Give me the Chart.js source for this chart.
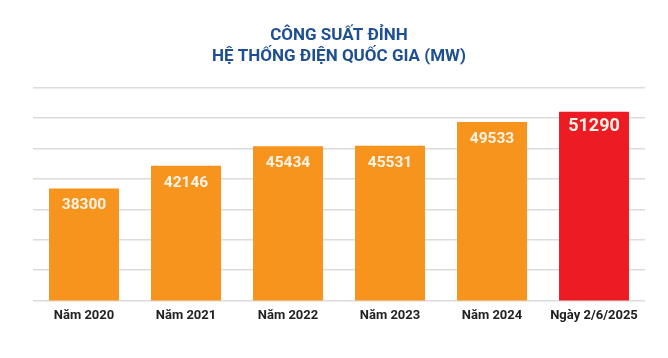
<!DOCTYPE html>
<html>
<head>
<meta charset="utf-8">
<script src="https://cdn.jsdelivr.net/npm/chart.js@4/dist/chart.umd.min.js"></script>
<style>
  html, body { margin: 0; padding: 0; background: #fff; }
  #wrap { width: 668px; height: 358px; }
</style>
</head>
<body>
<div id="wrap"><canvas id="chart"></canvas></div>
<script>
const categories = ['Năm 2020', 'Năm 2021', 'Năm 2022', 'Năm 2023', 'Năm 2024', 'Ngày 2/6/2025'];
const peakMW = [38300, 42146, 45434, 45531, 49533, 51290];
const barColors = ['#F7941D', '#F7941D', '#F7941D', '#F7941D', '#F7941D', '#ED1C24'];
const labelSizes = [15.5, 15.5, 15.5, 15.5, 15.5, 18];
const titleLines = ['CÔNG SUẤT ĐỈNH', 'HỆ THỐNG ĐIỆN QUỐC GIA (MW)'];

const Y_MIN = 19400;
const Y_MAX = 55330;
const GRID_COUNT = 7;

// white value labels just inside the top of each bar
const valueLabels = {
    id: 'valueLabels',
    afterDatasetsDraw(chart) {
        const ctx = chart.ctx;
        const meta = chart.getDatasetMeta(0);
        ctx.save();
        ctx.fillStyle = '#fbf3e6';
        ctx.textAlign = 'center';
        ctx.textBaseline = 'middle';
        meta.data.forEach((bar, i) => {
            ctx.font = 'bold ' + labelSizes[i] + 'px Roboto';
            ctx.fillText(String(peakMW[i]), bar.x, bar.y + (i === 5 ? 15 : 17));
        });
        ctx.restore();
    }
};

new Chart(document.getElementById('chart'), {
    type: 'bar',
    data: {
        labels: categories,
        datasets: [{
            data: peakMW,
            backgroundColor: barColors,
            borderWidth: 0,
            barPercentage: 0.686,
            categoryPercentage: 1
        }]
    },
    options: {
        responsive: true,
        maintainAspectRatio: false,
        animation: false,
        layout: { padding: { left: 33, right: 23, bottom: 26 } },
        plugins: {
            legend: { display: false },
            tooltip: { enabled: false },
            title: {
                display: true,
                text: titleLines,
                color: '#1D4F91',
                font: { family: 'Roboto', size: 17, weight: 'bold', lineHeight: 1.2 },
                padding: { top: 26, bottom: 21 }
            }
        },
        scales: {
            x: {
                grid: { display: false, drawTicks: false },
                border: { display: false },
                ticks: {
                    color: '#222222',
                    font: { family: 'Roboto', size: 13, weight: 'bold' },
                    padding: 8
                }
            },
            y: {
                min: Y_MIN,
                max: Y_MAX,
                afterBuildTicks(axis) {
                    const step = (Y_MAX - Y_MIN) / GRID_COUNT;
                    axis.ticks = [];
                    for (let i = 0; i <= GRID_COUNT; i++) axis.ticks.push({ value: Y_MIN + i * step });
                },
                grid: { color: '#DCDCDC', lineWidth: 1.5, drawTicks: false },
                border: { display: false },
                ticks: { display: false }
            }
        }
    },
    plugins: [valueLabels]
});
</script>
</body>
</html>
